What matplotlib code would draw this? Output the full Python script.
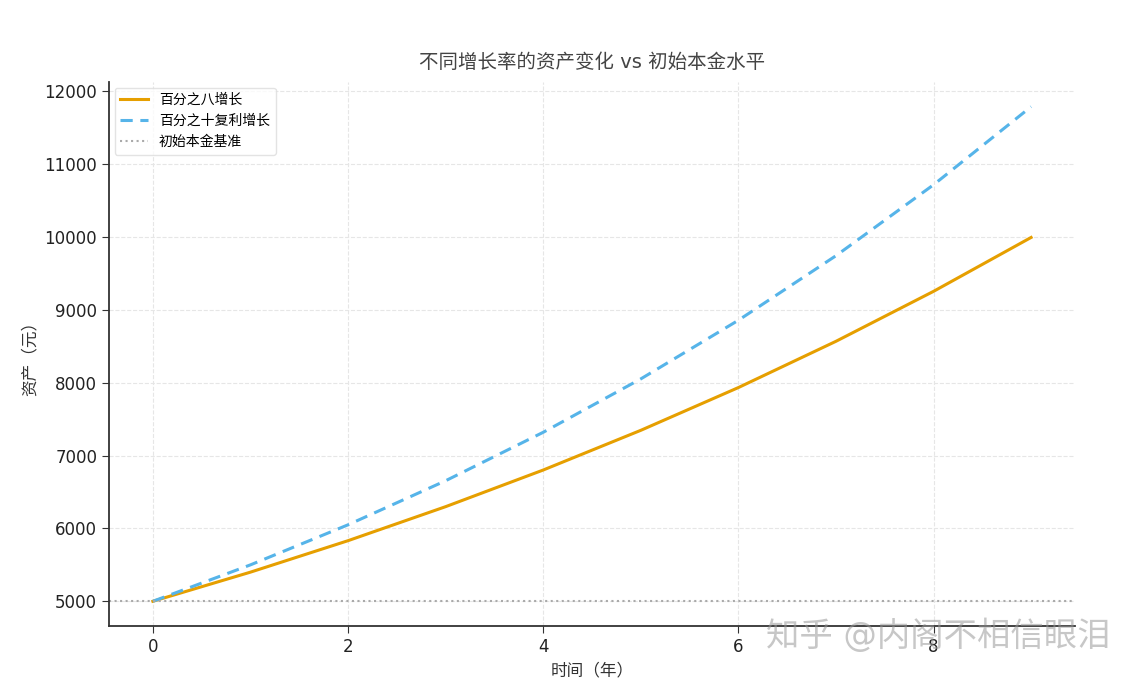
import numpy as np
import matplotlib
matplotlib.use('Agg')
import matplotlib.pyplot as plt

plt.rcParams['font.family'] = ['DejaVu Sans', 'Noto Sans CJK SC']

# 年份与两条增长曲线（读图估值）
years = [0, 1, 2, 3, 4, 5, 6, 7, 8, 9]
growth_low = [5000, 5400, 5832, 6299, 6802, 7347, 7934, 8569, 9255, 9995]
growth_high = [5000, 5500, 6050, 6655, 7320, 8053, 8858, 9744, 10718, 11790]
baseline = 5000

title = '不同增长率的资产变化 vs 初始本金水平'
labels = ['百分之八增长', '百分之十复利增长', '初始本金基准']
xlabel = '时间（年）'
ylabel = '资产（元）'
watermark = '知乎 @内阁不相信眼泪'

fig = plt.figure(figsize=(11.4, 6.82), dpi=100)
ax = fig.add_axes([0.0956, 0.0821, 0.8474, 0.7977])

ax.plot(years, growth_low, color='#E69F00', lw=2.2, label=labels[0])
ax.plot(years, growth_high, color='#56B4E9', lw=2.2, ls=(0, (4, 2.5)), label=labels[1])
ax.axhline(baseline, color='#aaaaaa', lw=1.5, ls=':', label=labels[2])

ax.set_title(title, fontsize=14, color='#444444', pad=10)
ax.set_xlabel(xlabel, fontsize=12, color='#333333')
ax.set_ylabel(ylabel, fontsize=12, color='#333333')

ax.grid(True, ls='--', color='#e6e6e6', lw=0.8)
ax.set_axisbelow(True)
for s in ['top', 'right']:
    ax.spines[s].set_visible(False)
for s in ['left', 'bottom']:
    ax.spines[s].set_color('#333333')
    ax.spines[s].set_linewidth(1.3)
ax.tick_params(labelsize=12, colors='#333333', length=5)
ax.tick_params(axis='both', labelcolor='#222222')

leg = ax.legend(loc='upper left', fontsize=10, frameon=True, borderaxespad=0.4)
leg.get_frame().set_edgecolor('#dddddd')

fig.text(0.974, 0.042, watermark, fontsize=24, color='#999999', alpha=0.55,
         ha='right', va='bottom')

fig.savefig('out.png', dpi=100)
